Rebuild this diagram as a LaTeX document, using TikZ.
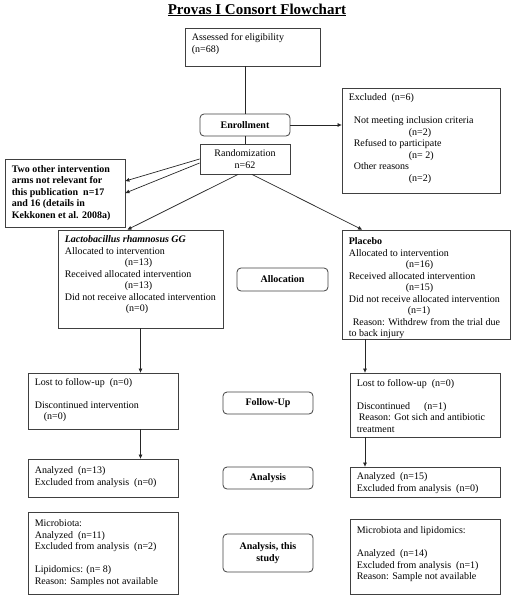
\documentclass[tikz,border=0pt]{standalone}
\usepackage{fontspec}
\setmainfont{Liberation Serif}
\usetikzlibrary{arrows.meta}
\tikzset{
  every node/.style={font=\fontsize{10}{11.5}\selectfont},
  box/.style={draw=black!75, line width=0.8pt, rectangle, inner sep=0pt},
  txt/.style={inner sep=0pt, align=left, anchor=west},
  rbox/.style={draw=black!75, line width=0.8pt, rounded corners=4pt, inner sep=0pt, align=center, font=\fontsize{10}{11.5}\selectfont\bfseries},
  conn/.style={line width=0.7pt, black!85},
  arr/.style={conn, -{Triangle[length=4pt,width=3.5pt]}}
}
% name, cx, cy, w, h, yshift, text
\newcommand\tbox[7]{%
  \node[box, minimum width=#4pt, minimum height=#5pt] (#1) at (#2,#3) {};
  \node[txt] (#1t) at ([xshift=7pt,yshift=#6pt]#1.west) {#7};}
\begin{document}
\begin{tikzpicture}[x=1pt,y=-1pt]
\useasboundingbox (0,0) rectangle (513,600);
\node (title) at (257,10) {\fontsize{15}{17}\selectfont\bfseries\underline{Provas I Consort Flowchart}};

\tbox{assess}{252.5}{47}{135}{38}{3}{Assessed for eligibility\\(n=68)}
\node[rbox, minimum width=90pt, minimum height=22pt] (enroll) at (245,125) {Enrollment};
\tbox{excl}{421}{140.5}{158}{105}{2}{Excluded\ \ (n=6)\\[11.5pt]
   \hspace*{5pt}Not meeting inclusion criteria\\
   \hspace*{60pt}(n=2)\\
   \hspace*{5pt}Refused to participate\\
   \hspace*{60pt}(n=\ 2)\\
   \hspace*{5pt}Other reasons\\
   \hspace*{60pt}(n=2)}
\node[box, minimum width=90pt, minimum height=30pt, align=center] (rand) at (245,159)
  {Randomization\\n=62};
\tbox{two}{65}{193}{120}{68}{0}{\bfseries Two other intervention\\\bfseries arms not relevant for\\\bfseries this publication\ \ n=17\\\bfseries and 16 (details in\\\bfseries Kekkonen et al. 2008a)}

\tbox{lgg}{140.5}{279}{165}{98}{4}{\textbf{\textit{Lactobacillus rhamnosus GG}}\\
   Allocated to intervention\\
   \hspace*{60pt}(n=13)\\
   Received allocated intervention\\
   \hspace*{60pt}(n=13)\\
   Did not receive allocated intervention\\
   \hspace*{61pt}(n=0)}
\node[rbox, minimum width=91pt, minimum height=23pt] (alloc) at (282.5,279.5) {Allocation};
\tbox{plc}{426}{284.5}{168}{109}{-4}{\textbf{Placebo}\\
   Allocated to intervention\\
   \hspace*{57pt}(n=16)\\
   Received allocated intervention\\
   \hspace*{57pt}(n=15)\\
   Did not receive allocated intervention\\
   \hspace*{59pt}(n=1)\\
   \hspace*{4pt}Reason: Withdrew from the trial due\\
   to back injury}

\tbox{fu1}{103}{401}{150}{56}{1}{Lost to follow-up\ \ (n=0)\\[11.5pt]
   Discontinued intervention\\
   \hspace*{9pt}(n=0)}
\node[rbox, minimum width=90pt, minimum height=22pt] (fuR) at (268,403) {Follow-Up};
\tbox{fu2}{425}{405}{150}{64}{-1}{Lost to follow-up\ \ (n=0)\\[11.5pt]
   Discontinued\hspace*{14pt}(n=1)\\
   \hspace*{2pt}Reason: Got sich and antibiotic\\
   treatment}

\tbox{an1}{103}{478}{150}{38}{1}{Analyzed\ \ (n=13)\\Excluded from analysis\ \ (n=0)}
\node[rbox, minimum width=90pt, minimum height=22pt] (anR) at (268,478) {Analysis};
\tbox{an2}{425}{482}{150}{30}{-1}{Analyzed\ \ (n=15)\\Excluded from analysis\ \ (n=0)}

\tbox{st1}{103}{553}{150}{82}{0}{Microbiota:\\Analyzed\ \ (n=11)\\Excluded from analysis\ \ (n=2)\\[11.5pt]
   Lipidomics: (n=\ 8)\\Reason: Samples not available}
\node[rbox, minimum width=90pt, minimum height=38pt] (stR) at (268,553) {Analysis, this\\study};
\tbox{st2}{425}{556.5}{150}{75}{2}{Microbiota and lipidomics:\\[11.5pt]
   Analyzed\ \ (n=14)\\Excluded from analysis\ \ (n=1)\\Reason: Sample not available}

% connectors
\draw[conn] (enroll.north |- assess.south) -- (enroll.north);
\draw[conn] (enroll.south) -- (rand.north);
\draw[arr] (enroll.east) -- (excl.west |- enroll.east);
\draw[arr] (rand.west) -- ([yshift=12pt]two.east);
\draw[arr] ([yshift=-4pt]rand.west) -- (two.east);
\draw[arr] ([xshift=-7pt]rand.south) -- ([xshift=-13pt]lgg.north);
\draw[arr] ([xshift=7pt]rand.south) -- ([xshift=-64pt]plc.north);
\draw[arr] (lgg.south) -- (lgg.south |- fu1.north);
\draw[arr] (lgg.south |- fu1.south) -- (lgg.south |- an1.north);
\coordinate (pc) at ([xshift=-61pt]plc.south);
\draw[arr] (pc) -- (pc |- fu2.north);
\draw[arr] (pc |- fu2.south) -- (pc |- an2.north);
\end{tikzpicture}
\end{document}
